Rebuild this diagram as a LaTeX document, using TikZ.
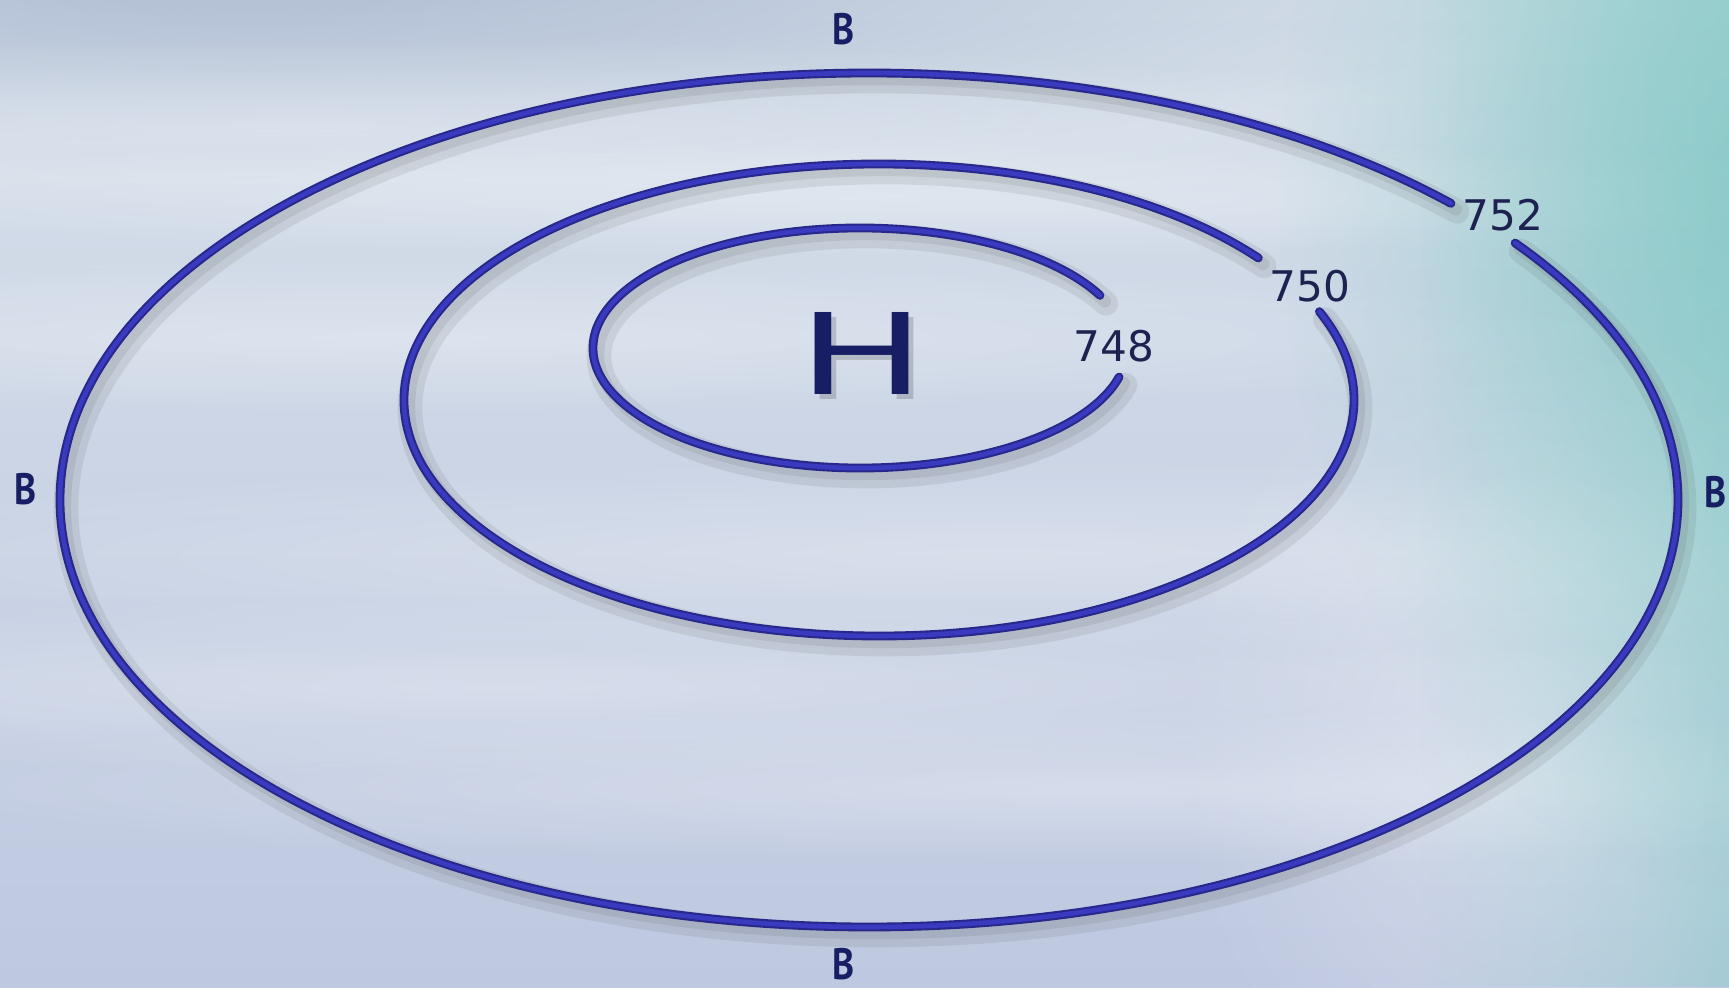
\documentclass[tikz,border=0pt]{standalone}
\usepackage{fontspec}
\setmainfont{DejaVu Sans}
\newfontfamily\markfont{PT Sans}
\usetikzlibrary{positioning, fadings}
\definecolor{skytop}{RGB}{214,224,234}
\definecolor{skybot}{RGB}{190,200,224}
\definecolor{skydark}{RGB}{150,166,196}
\definecolor{seateal}{RGB}{128,200,196}
\definecolor{isoedge}{RGB}{40,40,140}
\definecolor{isoblue}{RGB}{58,58,192}
\definecolor{numblue}{RGB}{30,34,80}
\definecolor{markblue}{RGB}{24,30,100}
\tikzfading[name=fade right, left color=transparent!100, right color=transparent!0]
\tikzfading[name=soft haze, inner color=transparent!0, outer color=transparent!100]
% one isobar: centre x, centre y, x radius, y radius, start angle, end angle
\newcommand\IsoRing[6]{%
  \draw[isoshadow, line width=7pt] ([shift={(#5:#3 and #4)}]#1+6,#2-8) arc[start angle=#5, end angle=#6, x radius=#3, y radius=#4];
  \draw[isoshadow, line width=3.5pt] ([shift={(#5:#3 and #4)}]#1+5,#2-6) arc[start angle=#5, end angle=#6, x radius=#3, y radius=#4];
  \draw[isoedge line] ([shift={(#5:#3 and #4)}]#1,#2) arc[start angle=#5, end angle=#6, x radius=#3, y radius=#4];
  \draw[isocore line] ([shift={(#5:#3 and #4)}]#1,#2) arc[start angle=#5, end angle=#6, x radius=#3, y radius=#4];
}
\tikzset{
  isoshadow/.style={draw=black!70, opacity=0.11, line cap=round},
  isoedge line/.style={draw=isoedge, line width=2.5pt, line cap=round},
  isocore line/.style={draw=isoblue, line width=1.3pt, line cap=round},
  isolabel/.style={font=\fontsize{12}{12}\selectfont, text=numblue, inner sep=1pt},
  edgemark/.style={font=\markfont\bfseries\fontsize{12.5}{12.5}\selectfont, text=markblue, inner sep=0pt, xscale=0.85},
  highmark/.style={font=\fontsize{32}{32}\selectfont, xscale=1.5},
  haze/.style={path fading=soft haze},
}
\begin{document}
\begin{tikzpicture}[x=0.01cm, y=0.01cm]
  \useasboundingbox (0,0) rectangle (1729,987);
  % background sky
  \begin{scope}
    \clip (0,0) rectangle (1729,987);
    \shade[top color=skytop, bottom color=skybot] (0,0) rectangle (1729,987);
    \fill[skydark, opacity=0.6, haze] (250,1010) ellipse [x radius=1300, y radius=200];
    \foreach \sx/\sy/\sw in {300/860/90, 900/790/60, 400/650/80, 1000/430/100, 500/300/90, 1100/200/80}{
      \fill[white, opacity=0.3, haze] (\sx,\sy) ellipse [x radius=1300, y radius=\sw];
    }
    \fill[seateal, opacity=0.85, path fading=fade right] (1420,0) rectangle (1960,987);
    \fill[seateal, opacity=0.65, haze] (1729,800) ellipse [x radius=450, y radius=700];
    \fill[white, opacity=0.3, haze] (1520,250) ellipse [x radius=350, y radius=450];
  \end{scope}

  % isobars
  \IsoRing{869}{487}{809}{427}{44}{397}
  \IsoRing{879}{587}{475}{236}{37}{382}
  \IsoRing{860}{639}{267}{120}{26}{346}

  % pressure values
  \node[isolabel] (p748) at (1114,641) {748};
  \node[isolabel] (p750) at (1310,701) {750};
  \node[isolabel] (p752) at (1503,772) {752};

  % high pressure centre
  \node[highmark, text=black, opacity=0.16] at (867,629) {H};
  \node[highmark, text=markblue] (h) at (862,634) {H};

  % edge marks
  \node[edgemark] (b-top) at (844,958) {B};
  \node[edgemark] (b-left) at (26,498) {B};
  \node[edgemark] (b-right) at (1716,495) {B};
  \node[edgemark] (b-bot) at (844,23) {B};
\end{tikzpicture}
\end{document}
